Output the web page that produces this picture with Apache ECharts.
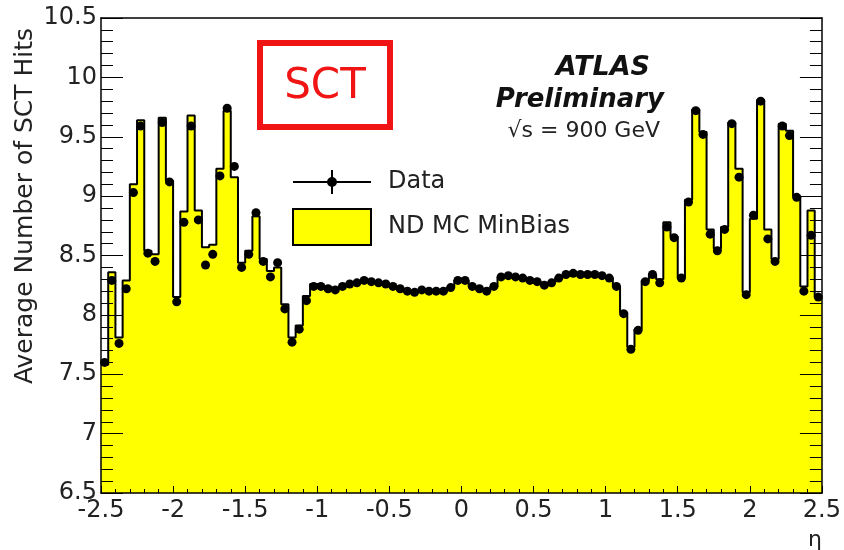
<!DOCTYPE html>
<html>
<head>
<meta charset="utf-8">
<script src="https://cdn.jsdelivr.net/npm/echarts@6/dist/echarts.min.js"></script>
<style>
html, body { margin:0; padding:0; background:#fff; }
#sct_hits { width:844px; height:550px; }
</style>
</head>
<body>
<div id="sct_hits"></div>
<script>
// eta binning: 100 bins of 0.05 from -2.5 to 2.5
var etaMin = -2.5;
var binWidth = 0.05;

// ND MC MinBias, average SCT hits per bin
var mcHits = [
    7.58, 8.36, 7.81, 8.29, 9.10, 9.64, 8.54, 8.51, 9.66, 9.13,
    8.15, 8.87, 9.68, 8.88, 8.57, 8.59, 9.23, 9.72, 9.16, 8.44,
    8.54, 8.83, 8.47, 8.37, 8.40, 8.09, 7.81, 7.91, 8.16, 8.26,
    8.24, 8.23, 8.22, 8.24, 8.26, 8.27, 8.29, 8.28, 8.27, 8.26,
    8.24, 8.22, 8.20, 8.19, 8.21, 8.20, 8.20, 8.20, 8.23, 8.29,
    8.29, 8.24, 8.22, 8.20, 8.24, 8.32, 8.33, 8.32, 8.31, 8.29,
    8.28, 8.25, 8.27, 8.31, 8.34, 8.35, 8.34, 8.34, 8.34, 8.33,
    8.31, 8.24, 8.02, 7.73, 7.88, 8.29, 8.34, 8.30, 8.78, 8.66,
    8.31, 8.97, 9.73, 9.54, 8.72, 8.56, 8.74, 9.62, 9.23, 8.19,
    8.81, 9.81, 8.72, 8.47, 9.61, 9.55, 9.00, 8.24, 8.88, 8.15
];

// Data points
var dataHits = [
    7.60, 8.29, 7.76, 8.22, 9.03, 9.59, 8.52, 8.45, 9.62, 9.12,
    8.11, 8.78, 9.59, 8.80, 8.42, 8.51, 9.17, 9.74, 9.25, 8.40,
    8.51, 8.86, 8.45, 8.32, 8.44, 8.05, 7.77, 7.88, 8.12, 8.24,
    8.24, 8.22, 8.21, 8.24, 8.26, 8.27, 8.29, 8.28, 8.27, 8.26,
    8.24, 8.22, 8.20, 8.19, 8.21, 8.20, 8.20, 8.20, 8.23, 8.29,
    8.29, 8.24, 8.22, 8.20, 8.24, 8.32, 8.33, 8.32, 8.31, 8.29,
    8.28, 8.25, 8.27, 8.31, 8.34, 8.35, 8.34, 8.34, 8.34, 8.33,
    8.31, 8.24, 8.01, 7.71, 7.87, 8.28, 8.34, 8.27, 8.74, 8.65,
    8.31, 8.95, 9.72, 9.52, 8.68, 8.54, 8.72, 9.61, 9.16, 8.17,
    8.84, 9.80, 8.64, 8.45, 9.59, 9.51, 8.99, 8.20, 8.67, 8.15
];

// histogram outline as steps, data at bin centres
var mcStep = [];
var dataPts = [];
for (var i = 0; i < mcHits.length; i++) {
    var lo = +(etaMin + i * binWidth).toFixed(3);
    var hi = +(lo + binWidth).toFixed(3);
    mcStep.push([lo, mcHits[i]], [hi, mcHits[i]]);
    dataPts.push([+(lo + binWidth / 2).toFixed(3), dataHits[i]]);
}

var font = 'DejaVu Sans';
var labelStyle = { fontFamily: font, fontSize: 24, color: '#222' };
var frameLine = { show: true, onZero: false, lineStyle: { color: '#000', width: 1.5 } };

var sctChart = echarts.init(document.getElementById('sct_hits'));

var sctOption = {
    animation: false,
    grid: { left: 101, right: 22, top: 18, bottom: 57 },
    legend: {
        orient: 'vertical',
        left: 292,
        top: 170,
        padding: 0,
        itemWidth: 78,
        itemHeight: 36,
        itemGap: 14,
        textStyle: { fontFamily: font, fontSize: 24, color: '#222', padding: [0, 0, 0, 12] },
        data: [
            {
                name: 'Data',
                icon: 'path://M0,17H78V19H0Z M38,6H40V30H38Z M34,18A5,5,0,1,1,44,18A5,5,0,1,1,34,18Z',
                itemStyle: { color: '#000' }
            },
            {
                name: 'ND MC MinBias',
                icon: 'rect',
                itemStyle: { color: '#ffff00', borderColor: '#000', borderWidth: 2 },
                lineStyle: { width: 0, opacity: 0 }
            }
        ]
    },
    xAxis: [
        {
            type: 'value',
            min: -2.5,
            max: 2.5,
            interval: 0.5,
            position: 'bottom',
            z: 5,
            axisLine: frameLine,
            axisTick: { show: true, inside: true, length: 7, lineStyle: { color: '#000' } },
            minorTick: { show: true, splitNumber: 5, length: 4, lineStyle: { color: '#000' } },
            splitLine: { show: false },
            axisLabel: Object.assign({ margin: 6 }, labelStyle)
        },
        {
            type: 'value',
            min: -2.5,
            max: 2.5,
            interval: 0.5,
            position: 'top',
            z: 5,
            axisLine: frameLine,
            axisTick: { show: false },
            splitLine: { show: false },
            axisLabel: { show: false }
        }
    ],
    yAxis: [
        {
            type: 'value',
            min: 6.5,
            max: 10.5,
            interval: 0.5,
            position: 'left',
            z: 5,
            axisLine: frameLine,
            axisTick: { show: true, inside: true, length: 22, lineStyle: { color: '#000' } },
            minorTick: { show: true, splitNumber: 5, length: 12, lineStyle: { color: '#000' } },
            splitLine: { show: false },
            axisLabel: Object.assign({ margin: 4 }, labelStyle)
        },
        {
            type: 'value',
            min: 6.5,
            max: 10.5,
            interval: 0.5,
            position: 'right',
            z: 5,
            axisLine: frameLine,
            axisTick: { show: true, inside: true, length: 22, lineStyle: { color: '#000' } },
            minorTick: { show: true, splitNumber: 5, length: 12, lineStyle: { color: '#000' } },
            splitLine: { show: false },
            axisLabel: { show: false }
        }
    ],
    series: [
        {
            name: 'ND MC MinBias',
            type: 'line',
            data: mcStep,
            symbol: 'none',
            lineStyle: { color: '#000', width: 2 },
            itemStyle: { color: '#ffff00' },
            areaStyle: { color: '#ffff00', opacity: 1, origin: 'start' },
            z: 2
        },
        {
            name: 'Data',
            type: 'scatter',
            data: dataPts,
            symbolSize: 9,
            itemStyle: { color: '#000', opacity: 1 },
            z: 3
        }
    ],
    graphic: [
        // y axis title, ROOT style aligned to the top end
        {
            type: 'text',
            x: 25,
            y: 206,
            rotation: Math.PI / 2,
            style: { text: 'Average Number of SCT Hits', font: '25px "DejaVu Sans"', fill: '#222', align: 'center', verticalAlign: 'middle' }
        },
        {
            type: 'text',
            x: 815,
            y: 540,
            style: { text: 'η', font: '22px "DejaVu Sans"', fill: '#222', align: 'center', verticalAlign: 'middle' }
        },
        // SCT box
        {
            type: 'rect',
            shape: { x: 260, y: 43, width: 130, height: 84 },
            style: { fill: 'none', stroke: '#f01414', lineWidth: 6 }
        },
        {
            type: 'text',
            x: 325,
            y: 87,
            style: { text: 'SCT', font: '42px "DejaVu Sans"', fill: '#f01414', align: 'center', verticalAlign: 'middle' }
        },
        {
            type: 'text',
            x: 650,
            y: 68,
            style: { text: 'ATLAS', font: 'italic bold 27px "DejaVu Sans"', fill: '#111', align: 'right', verticalAlign: 'middle' }
        },
        {
            type: 'text',
            x: 664,
            y: 100,
            style: { text: 'Preliminary', font: 'italic bold 26px "DejaVu Sans"', fill: '#111', align: 'right', verticalAlign: 'middle' }
        },
        {
            type: 'text',
            x: 660,
            y: 131,
            style: { text: '√s = 900 GeV', font: '22px "DejaVu Sans"', fill: '#222', align: 'right', verticalAlign: 'middle' }
        }
    ]
};

sctChart.setOption(sctOption);
</script>
</body>
</html>
